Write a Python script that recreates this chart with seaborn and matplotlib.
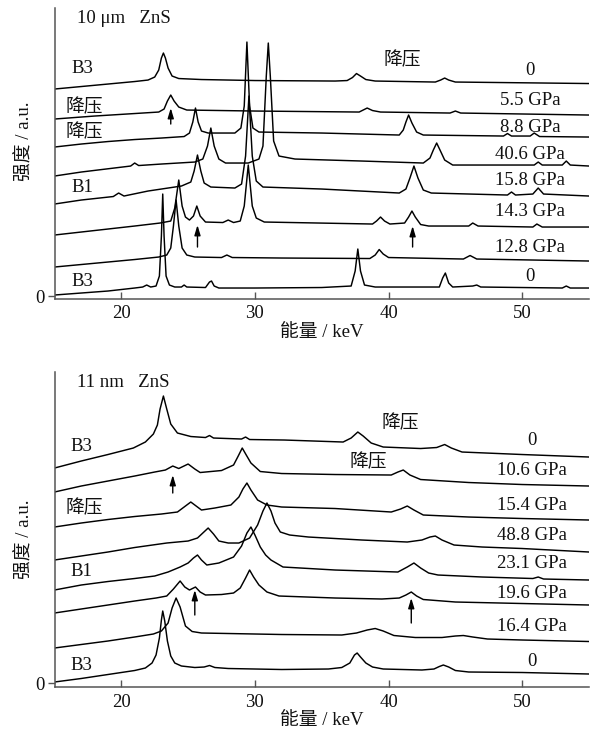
import matplotlib
matplotlib.use("Agg")
import matplotlib.pyplot as plt
import seaborn as sns
import pandas as pd

# ---------------- 10 um ZnS (energy in keV, intensity in a.u., offset stacked) ----------------
um_b3_e = [15, 17, 19, 21, 21.6, 21.9, 22.2, 22.6, 22.85, 23.0, 23.1, 23.2, 23.35, 23.6, 24.0, 24.5, 24.7,
           24.9, 26.3, 26.6, 26.75, 26.95, 27.3, 30, 35, 37.2, 37.5, 37.7, 37.9, 38.2, 39, 43.8, 44.05,
           44.25, 44.5, 44.8, 46.3, 46.6, 46.9, 53.0, 53.3, 53.6, 55]
um_b3_i = [1, 3, 5, 8, 9, 11, 9, 10, 20, 60, 102, 60, 20, 11, 9, 9, 11,
           9, 8.5, 14, 15, 10, 8, 8, 8.5, 10, 25, 47, 25, 11, 9, 9, 18,
           23, 13, 9, 10, 11, 9, 8, 10, 8, 8]

um_128_e = [15, 17, 19, 21, 22.8, 23.4, 23.7, 23.9, 24.1, 24.3, 24.55, 24.9, 25.5, 27.5, 27.9, 28.3, 32,
            38.6, 39.0, 39.3, 39.6, 40.0, 45.6, 46.1, 46.6, 55]
um_128_i = [29, 31.5, 34, 36.5, 39, 41, 48, 70, 96, 70, 48, 41, 39, 38.5, 41, 38.5, 38,
            37.5, 41, 46.5, 42, 38.5, 37, 40.5, 37, 35]

um_143_e = [15, 17, 19, 21, 22.9, 23.7, 24.0, 24.3, 24.55, 24.8, 25.1, 25.4, 25.65, 25.9, 26.3, 27.6, 28.0,
            28.4, 28.9, 29.2, 29.5, 29.8, 30.1, 30.7, 38.8, 39.1, 39.4, 39.7, 40.1, 41.2, 41.5, 41.75,
            42.0, 42.4, 43, 46.0, 46.3, 46.7, 50.8, 51.1, 51.5, 55]
um_143_i = [61, 64, 67, 70, 73, 75, 88, 116, 90, 79, 76, 80, 90, 80, 74, 73.5, 76,
            73.5, 75, 90, 131, 90, 78, 74, 72, 75, 79, 75, 72, 73, 79, 85,
            79, 71.5, 70, 70, 73, 70, 69, 72, 69, 69]

um_158_e = [15, 17, 19.4, 19.8, 20.2, 22, 24.5, 25.2, 25.45, 25.7, 25.95, 26.2, 26.7, 28.5, 29.0, 29.3,
            29.55, 29.8, 30.1, 30.6, 35, 40.8, 41.3, 41.6, 41.9, 42.2, 42.6, 43.2, 48.9, 49.2, 49.5,
            50.8, 51.2, 51.6, 55]
um_158_i = [92, 96, 99.5, 103, 100, 105, 110, 114, 125, 141, 125, 113, 109, 108, 112, 140,
            200, 140, 115, 109, 107, 103, 107, 118, 130, 118, 106, 103, 101, 104, 101,
            102, 108, 102, 100]

um_406_e = [15, 17, 20.7, 21.0, 21.3, 23, 25.5, 26.1, 26.45, 26.7, 26.95, 27.3, 27.8, 29.5, 30.3, 30.6,
            30.85, 31.0, 31.15, 31.4, 31.8, 33, 38, 42.6, 43.1, 43.35, 43.6, 43.85, 44.2, 44.8, 50.9,
            51.2, 51.5, 53.0, 53.3, 53.6, 55]
um_406_i = [120, 124, 130, 133, 130.5, 132, 134, 137, 150, 168, 150, 137, 133, 133, 137, 150,
            220, 253, 220, 155, 140, 137, 135, 133, 138, 146, 153, 146, 136, 131, 131,
            134, 131, 131, 135, 131, 130]

um_88_e = [15, 17, 19, 21, 23, 24.7, 25.1, 25.35, 25.55, 25.75, 26.0, 26.5, 28.5, 28.95, 29.2, 29.4,
           29.6, 29.85, 30.3, 35, 40.8, 41.1, 41.3, 41.5, 41.75, 42.1, 42.6, 48.6, 48.9, 49.2, 50.6,
           50.9, 51.3, 55]
um_88_i = [149, 152, 154.5, 156.5, 158, 159.5, 163, 174, 188, 174, 165, 163, 163, 168, 190, 254,
           190, 168, 164, 163, 161, 166, 174, 181, 173, 164, 161, 160, 162.5, 160, 160,
           163, 159.5, 159]

um_55_e = [15, 18, 21, 22.8, 23.2, 23.45, 23.7, 23.95, 24.3, 24.9, 30, 37.8, 38.1, 38.4, 38.8, 39.4,
           44.6, 45.0, 45.4, 55]
um_55_i = [177, 180, 182.5, 184, 187, 195, 201, 195, 189, 186, 185, 184, 186, 188, 185.5, 184,
           183, 185, 183, 181]

um_dec_e = [15, 17, 19, 21, 22.0, 22.5, 22.8, 23.0, 23.15, 23.3, 23.5, 23.8, 24.3, 26, 30, 36, 36.9,
            37.3, 37.6, 37.9, 38.3, 39, 43.5, 43.9, 44.2, 44.5, 45.0, 55]
um_dec_i = [207, 209.5, 212, 214.5, 216, 219, 226, 238, 243, 238, 228, 220, 217.5, 216.5, 215.5, 215, 215.5,
            218.5, 222.5, 220, 216.5, 215, 214, 216, 218, 216, 214, 212.5]

# ---------------- 11 nm ZnS ----------------
nm_b3_e = [15, 17, 19, 21, 21.8, 22.3, 22.6, 22.85, 23.0, 23.1, 23.25, 23.45, 23.7, 24.0, 24.5, 25.5,
           26.2, 26.6, 27.0, 28, 32, 35.5, 36.5, 37.1, 37.45, 37.65, 37.9, 38.3, 38.8, 39.6, 42.5,
           43.4, 43.8, 44.1, 44.5, 45.0, 46, 50, 55]
nm_b3_i = [1, 4.5, 8.5, 12.5, 15, 20, 28, 45, 63, 72, 62, 42, 27, 20, 17, 15.5,
           16, 17.5, 15.5, 14.5, 13.5, 14, 15.5, 20, 28, 30, 26, 20, 16, 14, 13,
           14, 16.5, 18, 16, 12.5, 11, 10.5, 9]

nm_164_e = [15, 17, 19, 21, 22.4, 23.0, 23.5, 23.8, 24.1, 24.4, 24.8, 25.3, 26, 28, 32, 36.5, 37.6,
            38.4, 39.0, 39.6, 40.4, 42, 44, 45.0, 45.6, 46.3, 47.4, 50, 55]
nm_164_i = [35, 38.5, 42, 46, 49, 52, 60, 75, 85, 76, 57, 51.5, 50, 49.5, 48.5, 48, 50,
            53, 54.5, 52, 47.5, 45.5, 45.5, 47, 47.5, 46, 44, 43, 41.5]

nm_196_e = [15, 17, 19, 21, 22.6, 23.4, 23.9, 24.4, 24.75, 25.1, 25.55, 25.9, 26.3, 27.5, 28.4, 28.9,
            29.3, 29.6, 29.9, 30.3, 30.9, 31.8, 36, 39.5, 40.8, 41.3, 41.7, 42.1, 42.6, 45, 50, 55]
nm_196_i = [70, 74, 78, 82, 85, 87, 94, 102, 96, 93, 96, 91, 88, 88.5, 90, 95,
            105, 113, 106, 98, 91, 87, 85, 84, 85, 88, 91, 87, 83.5, 81, 79.5, 78]

nm_231_e = [15, 17, 19, 21, 22.5, 23.5, 24.4, 25.0, 25.4, 25.7, 26.0, 26.4, 27.3, 28.4, 29.0, 29.4,
            29.7, 30.0, 30.4, 30.8, 31.2, 32.1, 36, 40.7, 41.4, 41.9, 42.4, 43.0, 43.7, 47, 50.8,
            51.2, 51.6, 55]
nm_231_i = [93, 98, 101.5, 104.5, 107, 111, 116, 120, 125, 128, 123, 118, 120, 126, 137, 150,
            156, 148, 136, 128, 123, 116, 113, 111, 116, 120, 115, 110, 108, 106, 104.5,
            106, 104, 103]

nm_488_e = [15, 17, 19, 21, 23.4, 25.0, 25.7, 26.1, 26.5, 26.9, 27.3, 28.0, 28.8, 29.6, 30.2, 30.6,
            30.9, 31.2, 31.5, 31.9, 32.6, 34, 38, 41.4, 42.5, 43.1, 43.5, 44.0, 44.9, 47, 50, 55]
nm_488_i = [123, 127, 131, 135.5, 140, 142, 145, 150, 155, 149, 142, 140, 140, 145, 158, 172,
            180, 172, 160, 151, 148, 146, 143, 141, 143, 146, 147, 143, 138, 136, 134.5, 131]

nm_154_e = [15, 17, 19, 21, 23, 24.2, 24.7, 25.2, 25.6, 26.0, 27, 28.2, 28.8, 29.1, 29.4, 29.7, 30.2,
            30.9, 32, 36, 40.2, 40.9, 41.4, 41.9, 42.6, 46, 50, 55]
nm_154_i = [156, 160, 163.5, 166.5, 169, 171, 176, 181, 177, 173, 175, 178, 186, 194, 200, 193, 183,
            178, 176, 174.5, 171, 174, 177, 173, 168, 166, 164.5, 163]

nm_106_e = [15, 17, 19, 21, 22.5, 23.3, 23.85, 24.3, 25.0, 25.5, 25.9, 27.5, 28.4, 28.75, 29.05, 29.35,
            29.7, 30.4, 32, 36, 40.2, 40.7, 41.1, 41.6, 42.4, 46, 50, 55]
nm_106_i = [191, 197, 202, 207, 211, 213, 217, 214.5, 219, 214, 210.5, 212.5, 218, 227, 235, 228,
            220, 211.5, 209.5, 208.5, 208, 211, 213, 208, 203.5, 200.5, 198.5, 197]

nm_dec_e = [15, 17, 19, 20.9, 21.8, 22.4, 22.7, 22.9, 23.15, 23.4, 23.7, 24.2, 25.2, 26.3, 26.6, 26.9,
            29.0, 29.3, 29.6, 32.2, 36.6, 37.2, 37.7, 38.1, 38.7, 39.6, 42.4, 43.6, 44.2, 44.7, 45.5,
            50, 55]
nm_dec_i = [215, 222, 228.5, 235, 241, 249, 258, 274, 287, 274, 259, 250, 246.5, 245.5, 247.5, 245,
            244, 246, 243.5, 243, 241, 245, 251, 247, 240, 236, 234.5, 235.5, 238.5, 235, 231,
            228.5, 226]

x_ticks = [20, 30, 40, 50]

um_traces = [("B3 0", um_b3_e, um_b3_i), ("12.8", um_128_e, um_128_i), ("14.3", um_143_e, um_143_i),
             ("15.8", um_158_e, um_158_i), ("40.6", um_406_e, um_406_i), ("8.8", um_88_e, um_88_i),
             ("5.5", um_55_e, um_55_i), ("dec 0", um_dec_e, um_dec_i)]
nm_traces = [("B3 0", nm_b3_e, nm_b3_i), ("16.4", nm_164_e, nm_164_i), ("19.6", nm_196_e, nm_196_i),
             ("23.1", nm_231_e, nm_231_i), ("48.8", nm_488_e, nm_488_i), ("15.4", nm_154_e, nm_154_i),
             ("10.6", nm_106_e, nm_106_i), ("dec 0", nm_dec_e, nm_dec_i)]


def to_frame(traces):
    rows = []
    for name, e, i in traces:
        for ev, iv in zip(e, i):
            rows.append({"energy": ev, "intensity": iv, "trace": name})
    return pd.DataFrame(rows)


sns.set_theme(style="ticks")
# Latin glyphs in a Times-like serif, Chinese glyphs fall back to Noto Sans CJK
FONTS = ["Liberation Serif", "Noto Sans CJK SC"]
plt.rcParams["font.family"] = FONTS
plt.rcParams["axes.unicode_minus"] = False

fig = plt.figure(figsize=(5.95, 7.38), dpi=100)
ax_top = fig.add_axes([0.0916, 0.5955, 0.8983, 0.3936])
ax_bot = fig.add_axes([0.0916, 0.0691, 0.8983, 0.4268])

FS = 13.5
INK = "#111111"


def style_axis(ax, ylim):
    ax.set_xlim(15, 55)
    ax.set_ylim(*ylim)
    ax.set_xticks(x_ticks)
    ax.set_xticklabels([str(t) for t in x_ticks])
    ax.set_yticks([0])
    ax.set_yticklabels(["0"])
    for side in ("top", "right"):
        ax.spines[side].set_visible(False)
    for side in ("left", "bottom"):
        ax.spines[side].set_color("#555555")
        ax.spines[side].set_linewidth(1.1)
    ax.tick_params(axis="x", direction="in", length=5, width=1, color="#555555",
                   labelsize=FS, pad=5, labelcolor=INK)
    ax.tick_params(axis="y", direction="out", length=5, width=1, color="#555555",
                   labelsize=FS, pad=2, labelcolor=INK)
    ax.set_xlabel("能量 / keV", fontsize=FS, labelpad=1, color=INK)
    ax.set_ylabel("强度 / a.u.", fontsize=FS, color=INK)
    ax.set_facecolor("white")


def draw(ax, traces):
    df = to_frame(traces)
    sns.lineplot(data=df, x="energy", y="intensity", units="trace", estimator=None,
                 sort=False, color="black", linewidth=1.05, ax=ax, legend=False)


def arrow(ax, x, y0, y1):
    ax.annotate("", xy=(x, y1), xytext=(x, y0),
                arrowprops=dict(arrowstyle="-|>,head_length=0.5,head_width=0.15",
                                color="black", lw=1.0, shrinkA=0, shrinkB=0))


def label(ax, x, y, s, ha="center"):
    ax.text(x, y, s, fontsize=FS, ha=ha, va="center", color=INK)


# ---- top panel: 10 um ----
draw(ax_top, um_traces)
style_axis(ax_top, (-2.5, 288))
ax_top.yaxis.set_label_coords(-0.040, 0.54)
label(ax_top, 16.7, 278, "10 μm   ZnS", ha="left")
right_top = [("0", 226), ("5.5 GPa", 196), ("8.8 GPa", 169), ("40.6 GPa", 142),
             ("15.8 GPa", 116), ("14.3 GPa", 85), ("12.8 GPa", 49), ("0", 20)]
for s, y in right_top:
    label(ax_top, 50.6, y, s)
left_top = [("B3", 16.3, 228), ("降压", 15.8, 189), ("降压", 15.8, 164), ("B1", 16.3, 109), ("B3", 16.3, 15)]
for s, x, y in left_top:
    label(ax_top, x, y, s, ha="left")
label(ax_top, 41.0, 236, "降压")
arrow(ax_top, 23.7, 172, 188)
arrow(ax_top, 25.7, 49, 71)
arrow(ax_top, 41.8, 49, 70)

# ---- bottom panel: 11 nm ----
draw(ax_bot, nm_traces)
style_axis(ax_bot, (-4, 311))
ax_bot.yaxis.set_label_coords(-0.040, 0.47)
label(ax_bot, 16.7, 301, "11 nm   ZnS", ha="left")
right_bot = [("0", 243), ("10.6 GPa", 213), ("15.4 GPa", 178), ("48.8 GPa", 148),
             ("23.1 GPa", 120), ("19.6 GPa", 90), ("16.4 GPa", 57), ("0", 22)]
for s, y in right_bot:
    label(ax_bot, 50.7, y, s)
left_bot = [("B3", 16.2, 237), ("降压", 15.8, 175), ("B1", 16.2, 112), ("B3", 16.2, 18)]
for s, x, y in left_bot:
    label(ax_bot, x, y, s, ha="left")
label(ax_bot, 40.9, 260, "降压")
label(ax_bot, 38.5, 221, "降压")
arrow(ax_bot, 23.85, 190, 208)
arrow(ax_bot, 25.5, 68, 93)
arrow(ax_bot, 41.7, 60, 85)

fig.savefig("out.png", dpi=100, facecolor="white")
